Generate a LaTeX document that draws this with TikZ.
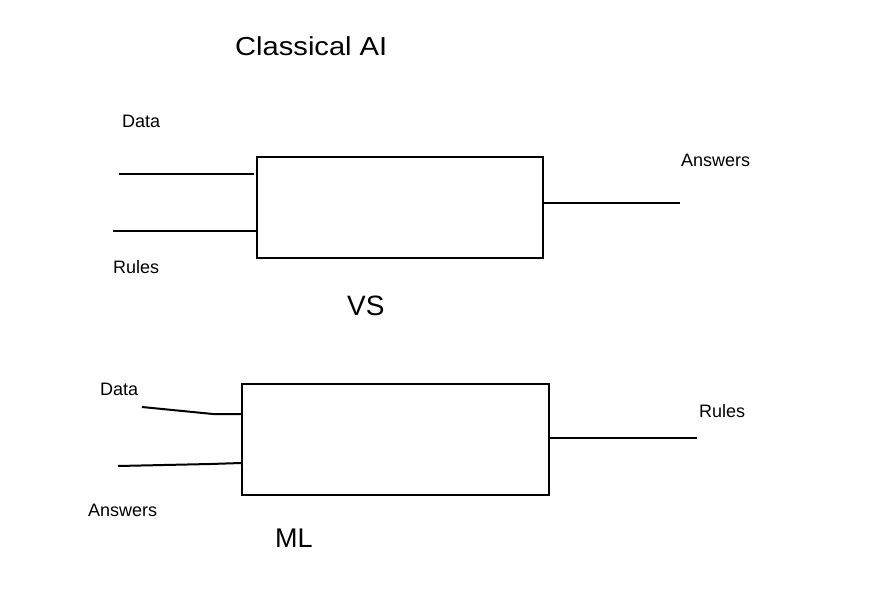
\documentclass[tikz,border=0pt]{standalone}
\usepackage{fontspec}
\setmainfont{Liberation Sans}
\usepackage{graphicx}
\begin{document}
\begin{tikzpicture}[x=1pt,y=-1pt,
  lbl/.style={anchor=base west,inner sep=0pt,font=\fontsize{18}{21}\selectfont},
  big/.style={anchor=base west,inner sep=0pt,font=\fontsize{28}{32}\selectfont},
  boxnode/.style={draw,line width=2pt,rectangle,inner sep=0pt},
  wire/.style={line width=2pt}]
\useasboundingbox (0,0) rectangle (891,608);
% titles
\node[anchor=base west,inner sep=0pt,font=\fontsize{26}{30}\selectfont] (title) at (235,55) {\scalebox{1.12}[1]{Classical AI}};
\node[big] (vs) at (347,315) {VS};
\node[big,font=\fontsize{27}{31}\selectfont] (ml) at (275,547) {ML};
% top box
\node[boxnode,minimum width=286pt,minimum height=101pt] (b1) at (400,207) {};
\node[lbl] (d1l) at (122,127) {Data};
\node[lbl] (r1l) at (113,273) {Rules};
\node[lbl] (a1l) at (681,166) {Answers};
\coordinate (d1s) at (119,174);
\coordinate (d1e) at (254,174);
\coordinate (r1s) at (113,231);
\coordinate (a1e) at (680,203);
\draw[wire] (d1s) -- (d1e);
\draw[wire] (r1s) -- (r1s -| b1.west);
\draw[wire] (b1.east |- a1e) -- (a1e);
% bottom box
\node[boxnode,minimum width=307pt,minimum height=111pt] (b2) at (395.5,439.5) {};
\node[lbl] (d2l) at (100,395) {Data};
\node[lbl] (a2l) at (88,516) {Answers};
\node[lbl] (r2l) at (699,417) {Rules};
\coordinate (d2s) at (142,407);
\coordinate (d2m) at (213,414);
\coordinate (a2s) at (118,466);
\coordinate (a2m) at (210,464);
\coordinate (r2e) at (697,438);
\draw[wire] (d2s) -- (d2m) -- (d2m -| b2.west);
\draw[wire] (a2s) -- (a2m) -- ([yshift=1pt]a2m -| b2.west);
\draw[wire] (b2.east |- r2e) -- (r2e);
\end{tikzpicture}
\end{document}
